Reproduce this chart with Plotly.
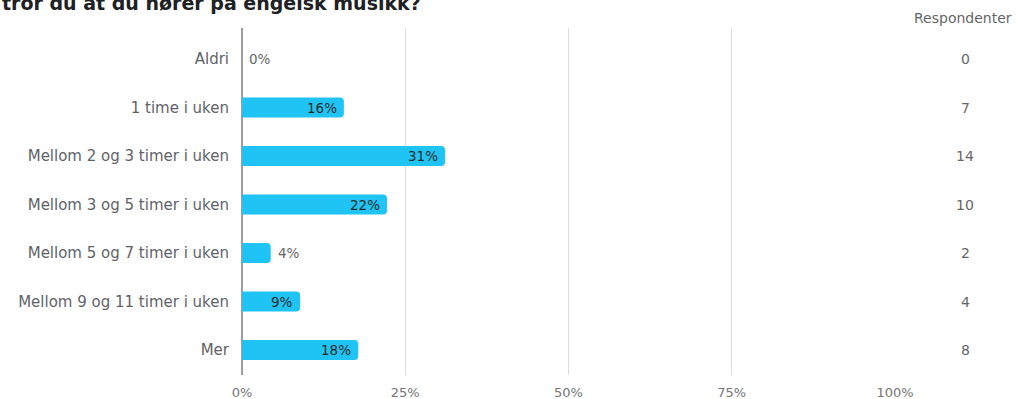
import plotly.graph_objects as go

categories = ["Aldri", "1 time i uken", "Mellom 2 og 3 timer i uken",
              "Mellom 3 og 5 timer i uken", "Mellom 5 og 7 timer i uken",
              "Mellom 9 og 11 timer i uken", "Mer"]
percent = [0, 15.6, 31.1, 22.2, 4.4, 8.9, 17.8]
respondents = [0, 7, 14, 10, 2, 4, 8]
pct_labels = ["0%", "16%", "31%", "22%", "4%", "9%", "18%"]
x_ticks = [0, 25, 50, 75, 100]
x_tick_labels = ["0%", "25%", "50%", "75%", "100%"]

W, H = 1018, 399
L, R, T, B = 242, 123, 28, 24
pw, ph = W - L - R, H - T - B
FONT = "DejaVu Sans"

ys = list(range(len(categories)))

fig = go.Figure()
fig.add_trace(go.Bar(
    y=ys, x=percent, orientation="h",
    marker=dict(color="#20c4f4", cornerradius=4, line=dict(width=0)),
    width=0.41, hoverinfo="skip",
))

for i, (p, t) in enumerate(zip(percent, pct_labels)):
    inside = p >= 8
    fig.add_annotation(
        x=p, xref="x", y=i, yref="y",
        xanchor="right" if inside else "left", yanchor="middle",
        xshift=-5 if inside else 5, yshift=0,
        text=t, showarrow=False,
        font=dict(family=FONT, size=13.5, color="#2b2b2b" if inside else "#666666"),
    )

for i, n in enumerate(respondents):
    fig.add_annotation(x=(965 - L) / pw, xref="paper", xanchor="center",
                       y=i, yref="y", yanchor="middle",
                       text=str(n), showarrow=False,
                       font=dict(family=FONT, size=14, color="#666666"))
fig.add_annotation(x=(963 - L) / pw, xref="paper", xanchor="center",
                   y=(H - B - 18) / ph, yref="paper", yanchor="middle",
                   text="Respondenter", showarrow=False,
                   font=dict(family=FONT, size=14, color="#666666"))
fig.add_annotation(x=-L / pw, xref="paper", xanchor="left",
                   y=(H - B - 2) / ph, yref="paper", yanchor="middle",
                   text="tror du at du hører på engelsk musikk?", showarrow=False,
                   font=dict(family=FONT, size=19, color="#202124", weight="bold"))

fig.update_layout(
    width=W, height=H, margin=dict(l=L, r=R, t=T, b=B),
    paper_bgcolor="white", plot_bgcolor="white", showlegend=False,
    xaxis=dict(range=[0, 100], tickvals=x_ticks, ticktext=x_tick_labels,
               showgrid=True, gridcolor="#dcdcdc", gridwidth=1,
               zeroline=True, zerolinecolor="#9e9e9e", zerolinewidth=1.5,
               tickfont=dict(family=FONT, size=13, color="#757575"),
               ticks="", ticklabelstandoff=8, automargin=False, fixedrange=True),
    yaxis=dict(range=[6.515, -0.64], tickvals=ys,
               ticktext=categories, showgrid=False, zeroline=False,
               tickfont=dict(family=FONT, size=15, color="#5f6368"),
               ticks="", ticklabelstandoff=12, automargin=False, fixedrange=True),
)

fig.write_html("out.html")
